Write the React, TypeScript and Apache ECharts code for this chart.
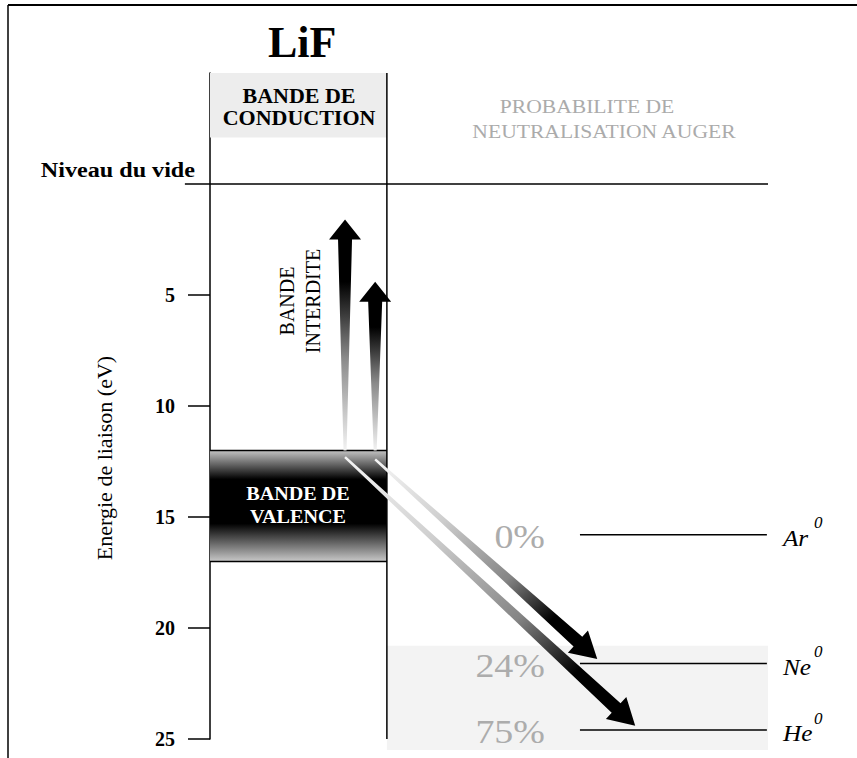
import React, { useEffect, useRef } from "react";
import * as echarts from "echarts";

// ---- data (energies in eV below the vacuum level, x in arbitrary diagram units 0..10) ----
const energyTicks = [5, 10, 15, 20, 25];
const energyRange = [-5, 25];
const diagramX = [0, 10];
const vacuumLevel = 0;
const vacuumLineStart = -0.45;
const solidColumn = [0, 3.17];
const conductionBand = [-5, -2.1];
const valenceBand = [12, 17];
const augerZone = [20.8, 25.5];
const atomNames = ["Ar", "Ne", "He"];
const atomLevels = [15.8, 21.6, 24.6];
const augerProbabilities = ["0%", "24%", "75%"];
const atomLevelX = [6.63, 9.98];
const gapArrowX = [2.42, 2.96];
const gapArrowTop = [1.6, 4.4];
const augerArrowFromX = [2.42, 2.96];
const augerArrowFromY = [12.3, 12.4];
const augerArrowToX = [7.62, 6.94];
const augerArrowToY = [24.4, 21.4];

const serif = "'Liberation Serif', 'Times New Roman', serif";
const f = (size: number, weight = "normal", style = "normal") =>
  `${style} ${weight} ${size}px ${serif}`;

export default function App() {
  const ref = useRef<HTMLDivElement>(null);

  useEffect(() => {
    const chart = echarts.init(ref.current!, null, { renderer: "svg" });

    const valenceGradient = new echarts.graphic.LinearGradient(0, 0, 0, 1, [
      { offset: 0, color: "#c4c4c4" },
      { offset: 0.26, color: "#000000" },
      { offset: 0.66, color: "#000000" },
      { offset: 1, color: "#c8c8c8" },
    ]);
    const zoneFill = ["#ededed", "#f3f3f3", valenceGradient];

    const zoneData = [
      [solidColumn[0], solidColumn[1], conductionBand[0], conductionBand[1], 0],
      [solidColumn[1], diagramX[1], augerZone[0], augerZone[1], 1],
      [solidColumn[0], solidColumn[1], valenceBand[0], valenceBand[1], 2],
    ];

    const lineData = [
      [solidColumn[1], energyRange[0], solidColumn[1], energyRange[1]],
      [vacuumLineStart, vacuumLevel, diagramX[1], vacuumLevel],
      [solidColumn[0], valenceBand[0], solidColumn[1], valenceBand[0]],
      [solidColumn[0], valenceBand[1], solidColumn[1], valenceBand[1]],
    ];

    const gapArrowData = gapArrowX.map((x, i) => [x, valenceBand[0], gapArrowTop[i]]);
    const augerArrowData = augerArrowFromX.map((x, i) => [
      x,
      augerArrowFromY[i],
      augerArrowToX[i],
      augerArrowToY[i],
    ]);
    const levelData = atomNames.map((n, i) => [atomLevelX[0], atomLevelX[1], atomLevels[i], i]);

    const gtext = (
      text: string,
      x: number,
      y: number,
      font: string,
      fill: string,
      align: string,
      extra: any = {},
      lineHeight?: number
    ) => ({
      type: "text",
      z: 100,
      x,
      y,
      ...extra,
      style: {
        text,
        font,
        fill,
        align,
        verticalAlign: "middle",
        ...(lineHeight ? { lineHeight } : {}),
      },
    });

    const option: any = {
      animation: false,
      backgroundColor: "#ffffff",
      title: {
        text: "LiF",
        left: 263,
        top: 15,
        textStyle: { fontFamily: serif, fontSize: 44, fontWeight: "bold", color: "#000" },
      },
      grid: { left: 210, top: 73, width: 558, height: 666 },
      xAxis: { type: "value", min: diagramX[0], max: diagramX[1], show: false },
      yAxis: {
        type: "value",
        min: energyRange[0],
        max: energyRange[1],
        interval: 5,
        inverse: true,
        axisLine: { show: true, lineStyle: { color: "#000", width: 1.5 } },
        axisTick: {
          show: true,
          length: 22,
          customValues: energyTicks,
          lineStyle: { color: "#000", width: 1.5 },
        },
        axisLabel: {
          customValues: energyTicks,
          margin: 35,
          fontFamily: serif,
          fontSize: 20,
          fontWeight: "bold",
          color: "#000",
        },
        splitLine: { show: false },
      },
      graphic: [
        { type: "line", z: 100, shape: { x1: 8, y1: 5, x2: 857, y2: 5 }, style: { stroke: "#000", lineWidth: 2 } },
        { type: "line", z: 100, shape: { x1: 8, y1: 5, x2: 8, y2: 758 }, style: { stroke: "#000", lineWidth: 1.5 } },
        gtext("Energie de liaison (eV)", 104, 458, f(22), "#000", "center", { rotation: Math.PI / 2 }),
        gtext("Niveau du vide", 195, 170, f(21, "bold"), "#000", "right", { scaleX: 1.15 }),
        gtext("BANDE DE\nCONDUCTION", 299, 107, f(20, "bold"), "#000", "center", { scaleX: 1.1 }, 22),
        gtext("BANDE DE\nVALENCE", 298, 505, f(18, "bold"), "#fff", "center", { scaleX: 1.12 }, 23),
        gtext("BANDE\nINTERDITE", 300, 301, f(20), "#000", "center", { rotation: Math.PI / 2 }, 26),
        gtext("PROBABILITE DE", 587, 107, f(18), "#ababab", "center", { scaleX: 1.2 }),
        gtext("NEUTRALISATION AUGER", 604, 132, f(18), "#ababab", "center", { scaleX: 1.2 }),
      ],
      series: [
        {
          type: "custom",
          name: "zones",
          silent: true,
          z: 1,
          data: zoneData,
          renderItem: (params: any, api: any) => {
            const a = api.coord([api.value(0), api.value(2)]);
            const b = api.coord([api.value(1), api.value(3)]);
            return {
              type: "rect",
              shape: {
                x: Math.min(a[0], b[0]),
                y: Math.min(a[1], b[1]),
                width: Math.abs(b[0] - a[0]),
                height: Math.abs(b[1] - a[1]),
              },
              style: { fill: zoneFill[api.value(4)] },
            };
          },
        },
        {
          type: "custom",
          name: "lines",
          silent: true,
          z: 2,
          data: lineData,
          renderItem: (params: any, api: any) => {
            const a = api.coord([api.value(0), api.value(1)]);
            const b = api.coord([api.value(2), api.value(3)]);
            return {
              type: "line",
              shape: { x1: a[0], y1: a[1], x2: b[0], y2: b[1] },
              style: { stroke: "#000", lineWidth: 1.5 },
            };
          },
        },
        {
          type: "custom",
          name: "gap arrows",
          silent: true,
          z: 3,
          data: gapArrowData,
          renderItem: (params: any, api: any) => {
            const base = api.coord([api.value(0), api.value(1)]);
            const tip = api.coord([api.value(0), api.value(2)]);
            const x = tip[0];
            const hb = tip[1] + 20;
            return {
              type: "polygon",
              shape: {
                points: [
                  [x, tip[1]],
                  [x + 16, hb],
                  [x + 7, hb],
                  [x + 1.5, base[1]],
                  [x - 1.5, base[1]],
                  [x - 7, hb],
                  [x - 16, hb],
                ],
              },
              style: {
                fill: new echarts.graphic.LinearGradient(0, 0, 0, 1, [
                  { offset: 0, color: "#000" },
                  { offset: 0.27, color: "#000" },
                  { offset: 0.6, color: "#8a8a8a" },
                  { offset: 1, color: "#f2f2f2" },
                ]),
              },
            };
          },
        },
        {
          type: "custom",
          name: "auger arrows",
          silent: true,
          z: 3,
          data: augerArrowData,
          renderItem: (params: any, api: any) => {
            const t = api.coord([api.value(0), api.value(1)]);
            const p = api.coord([api.value(2), api.value(3)]);
            const dx = p[0] - t[0];
            const dy = p[1] - t[1];
            const len = Math.sqrt(dx * dx + dy * dy);
            const ux = dx / len;
            const uy = dy / len;
            const nx = -uy;
            const ny = ux;
            const headLen = 26;
            const headHalf = 15;
            const shaftEnd = 6.5;
            const shaftStart = 1.2;
            const hx = p[0] - ux * headLen;
            const hy = p[1] - uy * headLen;
            return {
              type: "polygon",
              shape: {
                points: [
                  [p[0], p[1]],
                  [hx + nx * headHalf, hy + ny * headHalf],
                  [hx + nx * shaftEnd, hy + ny * shaftEnd],
                  [t[0] + nx * shaftStart, t[1] + ny * shaftStart],
                  [t[0] - nx * shaftStart, t[1] - ny * shaftStart],
                  [hx - nx * shaftEnd, hy - ny * shaftEnd],
                  [hx - nx * headHalf, hy - ny * headHalf],
                ],
              },
              style: {
                fill: new echarts.graphic.LinearGradient(0, 0, 1, 1, [
                  { offset: 0, color: "#f6f6f6" },
                  { offset: 0.3, color: "#cfcfcf" },
                  { offset: 0.6, color: "#858585" },
                  { offset: 0.8, color: "#000" },
                  { offset: 1, color: "#000" },
                ]),
              },
            };
          },
        },
        {
          type: "custom",
          name: "levels",
          silent: true,
          z: 4,
          data: levelData,
          renderItem: (params: any, api: any) => {
            const i = api.value(3);
            const a = api.coord([api.value(0), api.value(2)]);
            const b = api.coord([api.value(1), api.value(2)]);
            return {
              type: "group",
              children: [
                {
                  type: "line",
                  shape: { x1: a[0], y1: a[1], x2: b[0], y2: b[1] },
                  style: { stroke: "#000", lineWidth: 1.5 },
                },
                {
                  type: "text",
                  x: a[0] - 35,
                  y: a[1] + 2,
                  scaleX: 1.15,
                  style: {
                    text: augerProbabilities[i],
                    x: 0,
                    y: 0,
                    font: f(33),
                    fill: "#acacac",
                    align: "right",
                    verticalAlign: "middle",
                  },
                },
                {
                  type: "text",
                  x: b[0] + 16,
                  y: b[1] + 3,
                  scaleX: 1.1,
                  style: {
                    text: atomNames[i],
                    x: 0,
                    y: 0,
                    font: f(23, "normal", "italic"),
                    fill: "#000",
                    align: "left",
                    verticalAlign: "middle",
                  },
                },
                {
                  type: "text",
                  x: b[0] + 47,
                  y: b[1] - 12,
                  style: {
                    text: "0",
                    x: 0,
                    y: 0,
                    font: f(17, "normal", "italic"),
                    fill: "#000",
                    align: "left",
                    verticalAlign: "middle",
                  },
                },
              ],
            };
          },
        },
      ],
    };

    chart.setOption(option);
    return () => chart.dispose();
  }, []);

  return (
    <div
      ref={ref}
      style={{ position: "absolute", left: 0, top: 0, width: 857, height: 758, background: "#fff" }}
    />
  );
}
